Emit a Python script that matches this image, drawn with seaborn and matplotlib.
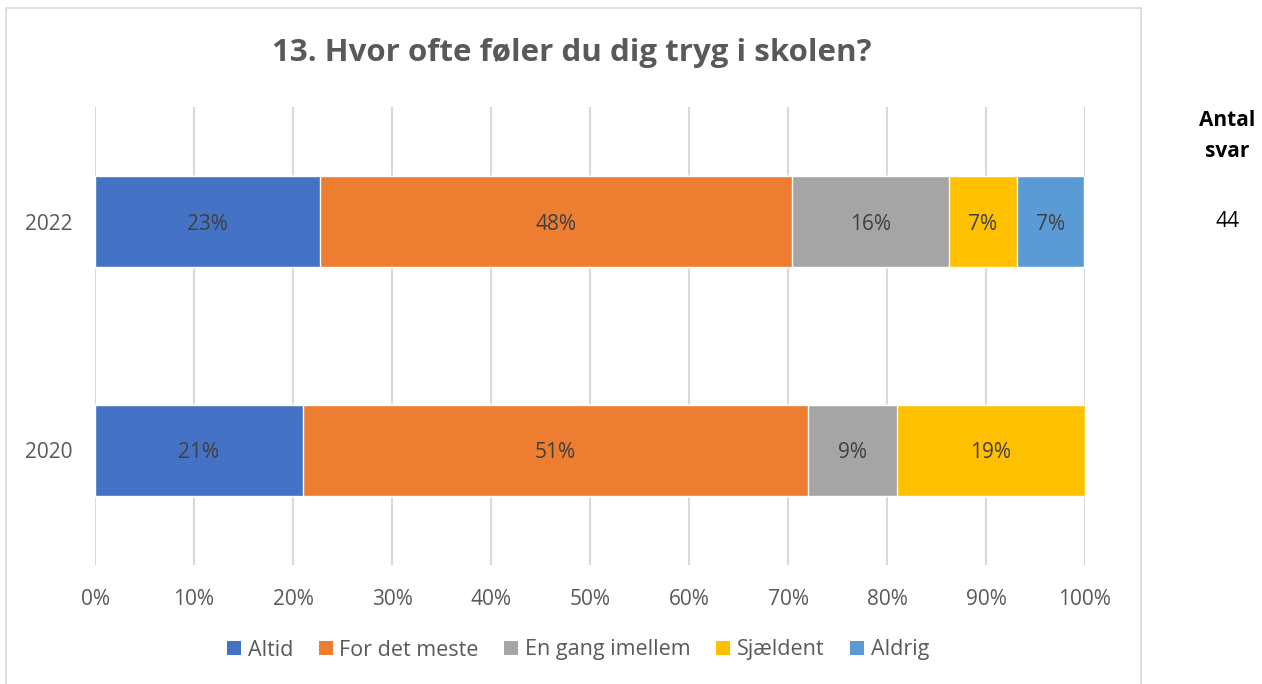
import matplotlib
matplotlib.use("Agg")
import numpy as np
import pandas as pd
import seaborn as sns
from matplotlib import pyplot as plt
from matplotlib.patches import Rectangle, Patch

# Data (shares of answers)
years = ["2022", "2020"]
categories = ["Altid", "For det meste", "En gang imellem", "Sjældent", "Aldrig"]
altid = [0.227, 0.21]
for_det_meste = [0.477, 0.51]
en_gang_imellem = [0.159, 0.09]
sjaeldent = [0.068, 0.19]
aldrig = [0.068, 0.0]
antal_svar = ["44", ""]

colors = ["#4472C4", "#ED7D31", "#A5A5A5", "#FFC000", "#5B9BD5"]

sns.set_theme(style="white")
plt.rcParams["font.family"] = ["Open Sans", "DejaVu Sans"]

values = np.array([altid, for_det_meste, en_gang_imellem, sjaeldent, aldrig])
cum = values.cumsum(axis=0)

fig = plt.figure(figsize=(12.62, 6.84), dpi=100)
ax = fig.add_axes([95 / 1262, 119 / 684, 990 / 1262, 458 / 684])

# Stacked bars: draw the cumulative totals from the right-most segment back
for i in reversed(range(len(categories))):
    df = pd.DataFrame({"year": years, "value": cum[i]})
    sns.barplot(data=df, x="value", y="year", orient="h", color=colors[i],
                width=0.4, saturation=1, ax=ax, zorder=2)

# Segment labels
for i in range(len(categories)):
    for j, year in enumerate(years):
        v = values[i, j]
        if v <= 0:
            continue
        ax.text(cum[i, j] - v / 2, j, f"{round(v * 100):.0f}%", ha="center",
                va="center_baseline", fontsize=15, color="#404040", zorder=3)

ax.set_xlim(0, 1)
ax.set_ylim(1.5, -0.5)
ax.set_xticks(np.arange(0, 1.01, 0.1))
ax.set_xticklabels([f"{t}%" for t in range(0, 101, 10)])
ax.grid(axis="x", color="#D9D9D9", linewidth=1.5, zorder=0)
ax.set_axisbelow(True)
ax.tick_params(axis="x", length=0, pad=17, labelsize=15, labelcolor="#595959")
ax.tick_params(axis="y", length=0, pad=16, labelsize=15, labelcolor="#595959")
ax.set_xlabel("")
ax.set_ylabel("")
for s in ax.spines.values():
    s.set_visible(False)

fig.text(572 / 1262, 1 - 53 / 684, "13. Hvor ofte føler du dig tryg i skolen?",
         ha="center", va="center", fontsize=22.5, fontweight="bold", color="#595959")

handles = [Patch(facecolor=c, edgecolor="none") for c in colors]
fig.legend(handles, categories, loc="center", bbox_to_anchor=(578 / 1262, 1 - 650 / 684),
           ncol=5, frameon=False, fontsize=15.5, labelcolor="#595959",
           handlelength=0.65, handleheight=0.65, handletextpad=0.3, columnspacing=1.2)

# Chart frame
fig.patches.append(Rectangle((6 / 1262, -0.01), 1135 / 1262, 1 - 8 / 684 + 0.01,
                             transform=fig.transFigure, fill=False,
                             edgecolor="#D9D9D9", linewidth=1.2))

# Number of respondents column
fig.text(1227 / 1262, 1 - 136 / 684, "Antal\nsvar", ha="center", va="center",
         fontsize=15, fontweight="bold", color="black", linespacing=1.65)
for j, n in enumerate(antal_svar):
    y_disp = ax.transData.transform((0, j))[1]
    fig.text(1228 / 1262, y_disp / fig.bbox.height, n, ha="center", va="center",
             fontsize=15, color="black")

fig.savefig("out.png", dpi=100)
